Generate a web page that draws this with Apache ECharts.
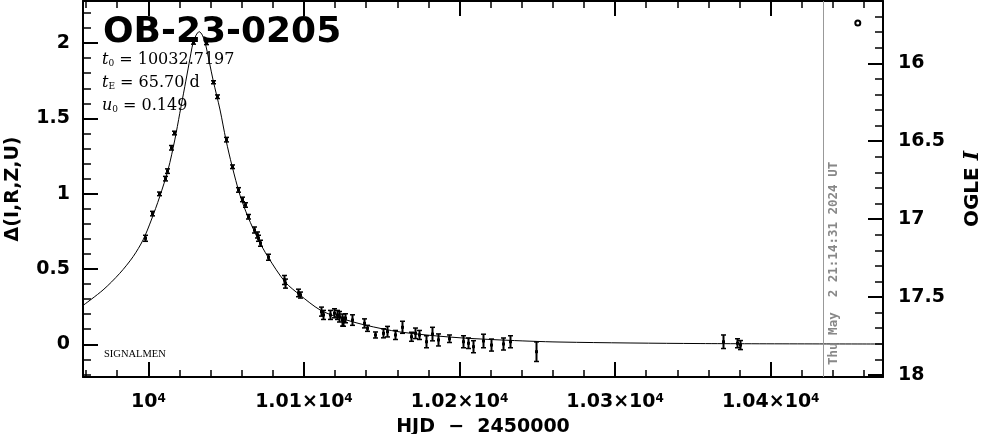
<!DOCTYPE html>
<html>
<head>
<meta charset="utf-8">
<script src="https://cdn.jsdelivr.net/npm/echarts@6/dist/echarts.min.js"></script>
<style>
html,body{margin:0;padding:0;background:#fff;}
#chart{width:986px;height:434px;}
</style>
</head>
<body>
<div id="chart"></div>
<script>
// ---- data ----
const obsT = [9998.1,10002.6,10006.9,10010.9,10011.7,10014.8,10016.8,10028.9,10036.8,10041.8,
  10044.0,10049.9,10054.0,10057.8,10059.9,10062.1,10063.9,10068.1,10069.7,10070.8,
  10072.0,10077.1,10087.4,10087.9,10096.5,10097.5,10111.0,10112.0,10116.8,10119.5,
  10121.1,10122.6,10124.3,10125.3,10126.4,10130.7,10138.6,10140.7,10145.7,10150.6,
  10153.6,10158.5,10162.9,10168.6,10171.4,10174.2,10178.5,10182.1,10186.4,10193.4,
  10202.4,10205.7,10208.5,10215.3,10220.2,10227.8,10232.5,10249.0,10369.5,10378.1,10380.3];
const obsDelta = [0.704,0.868,0.999,1.100,1.150,1.305,1.403,2.003,2.000,1.740,
  1.644,1.359,1.179,1.025,0.962,0.925,0.847,0.759,0.726,0.704,
  0.671,0.578,0.427,0.403,0.341,0.327,0.217,0.195,0.195,0.206,
  0.195,0.183,0.161,0.150,0.173,0.161,0.139,0.106,0.062,0.073,
  0.084,0.062,0.113,0.050,0.073,0.062,0.017,0.068,0.029,0.037,
  0.017,0.007,-0.016,0.022,-0.005,0.002,0.017,-0.049,0.017,0.007,-0.005];
const obsErr = [0.020,0.015,0.012,0.015,0.015,0.015,0.012,0.010,0.010,0.010,
  0.012,0.015,0.012,0.015,0.015,0.015,0.015,0.020,0.020,0.020,
  0.020,0.020,0.030,0.030,0.025,0.020,0.030,0.030,0.030,0.030,
  0.030,0.035,0.040,0.030,0.030,0.035,0.030,0.020,0.020,0.030,
  0.035,0.030,0.040,0.030,0.035,0.030,0.040,0.045,0.040,0.025,
  0.040,0.035,0.040,0.045,0.040,0.040,0.040,0.065,0.045,0.030,0.030];

const modelT = [9958.0,9970.9,9981.6,9990.2,9996.6,10001.9,10007.3,10012.7,10017.0,10020.2,
  10023.4,10026.2,10028.7,10030.7,10032.7,10034.7,10036.6,10041.6,10046.1,10049.9,
  10053.8,10058.9,10064.1,10070.5,10076.9,10087.9,10097.5,10110.4,10123.2,10139.3,
  10161.8,10193.9,10226.0,10264.6,10354.6,10472.2];
const modelDelta = [0.258,0.361,0.471,0.582,0.693,0.825,0.980,1.160,1.357,1.534,
  1.710,1.866,2.000,2.053,2.076,2.053,2.000,1.755,1.556,1.357,
  1.184,0.990,0.845,0.699,0.580,0.414,0.327,0.228,0.175,0.128,
  0.082,0.048,0.029,0.015,0.005,0.002];

const extraT = [10456.0];
const extraDelta = [2.134];

const stampT = 10433.6;
const stampText = 'Thu May  2 21:14:31 2024 UT';

const xMajor = [10000,10100,10200,10300,10400];
const yLeftMajor = [0,0.5,1,1.5,2];
const yRightMajor = [16,16.5,17,17.5,18];

const xRange = [9958.0, 10472.2];
const yLeftRange = [-0.2171, 2.2796];
const yRightRange = [15.600, 18.013];

// minor tick values
const xMinor = []; for (let v = 9960; v <= 10470; v += 20) xMinor.push(v);
const yLeftMinor = []; for (let i = -2; i <= 22; i++) yLeftMinor.push(+(i/10).toFixed(1));
const yRightMinor = []; for (let i = 157; i <= 180; i++) yRightMinor.push(+(i/10).toFixed(1));

const FONT = 'DejaVu Sans';
const chart = echarts.init(document.getElementById('chart'), null, {renderer:'canvas'});

const frame = {show:true, onZero:false, lineStyle:{color:'#000', width:2}};
function xAx(pos, major, showLabel){
  return {
    type:'value', position:pos, min:xRange[0], max:xRange[1],
    axisLine: major ? frame : {show:false, onZero:false},
    splitLine:{show:false},
    axisTick:{show:true, inside:true, length: major?15:7, customValues: major?xMajor:xMinor,
      lineStyle:{color:'#000', width: major?2:1.5}},
    axisLabel: showLabel ? {show:true, customValues:xMajor, margin:16, color:'#000',
      fontFamily:FONT, fontWeight:'bold', fontSize:19,
      formatter: v => (v === 10000 ? '10{s|4}' : (v/10000).toFixed(2) + '×10{s|4}'),
      rich:{s:{fontFamily:FONT, fontWeight:'bold', fontSize:12, verticalAlign:'top', color:'#000'}}
    } : {show:false}
  };
}
function yAx(pos, major, range, majorVals, minorVals, inverse, showLabel){
  return {
    type:'value', position:pos, min:range[0], max:range[1], inverse:inverse,
    axisLine: major ? frame : {show:false, onZero:false},
    splitLine:{show:false},
    axisTick:{show:true, inside:true, length: major?15:8, customValues: major?majorVals:minorVals,
      lineStyle:{color:'#000', width: major?2:1.5}},
    axisLabel: showLabel ? {show:true, customValues:majorVals, margin: pos==='left'?13:15, color:'#000',
      fontFamily:FONT, fontWeight:'bold', fontSize:19,
      formatter: v => String(v)} : {show:false}
  };
}

const xAxes = [xAx('bottom', true, true), xAx('bottom', false, false), xAx('top', true, false), xAx('top', false, false)];
xAxes[0].name = 'HJD  −  2450000';
xAxes[0].nameLocation = 'middle';
xAxes[0].nameGap = 41;
xAxes[0].nameTextStyle = {fontFamily:FONT, fontWeight:'bold', fontSize:19, color:'#000'};

const yAxes = [
  yAx('left', true, yLeftRange, yLeftMajor, yLeftMinor, false, true),
  yAx('left', false, yLeftRange, yLeftMajor, yLeftMinor, false, false),
  yAx('right', true, yRightRange, yRightMajor, yRightMinor, true, true),
  yAx('right', false, yRightRange, yRightMajor, yRightMinor, true, false)
];
yAxes[0].name = 'Δ(I,R,Z,U)';
yAxes[0].nameLocation = 'middle';
yAxes[0].nameGap = 60;
yAxes[0].nameTextStyle = {fontFamily:FONT, fontWeight:'bold', fontSize:19, color:'#000'};
yAxes[2].name = 'OGLE {i|I}';
yAxes[2].nameLocation = 'middle';
yAxes[2].nameRotate = 90;
yAxes[2].nameGap = 80;
yAxes[2].nameTextStyle = {fontFamily:FONT, fontWeight:'bold', fontSize:20, color:'#000',
  rich:{i:{fontFamily:'DejaVu Serif', fontStyle:'italic', fontWeight:'bold', fontSize:20, color:'#000'}}};

const modelData = modelT.map((t,i)=>[t, modelDelta[i]]);
const obsData = obsT.map((t,i)=>[t, obsDelta[i], obsErr[i]]);
const extraData = extraT.map((t,i)=>[t, extraDelta[i]]);

function renderErr(params, api){
  const x = api.value(0), y = api.value(1), e = api.value(2);
  const c = api.coord([x,y]), hi = api.coord([x,y+e]), lo = api.coord([x,y-e]);
  const cx = Math.round(c[0]) + 0.5;
  return {type:'group', children:[
    {type:'line', shape:{x1:cx, y1:hi[1], x2:cx, y2:lo[1]}, style:{stroke:'#000', lineWidth:2}},
    {type:'line', shape:{x1:cx-2.5, y1:hi[1], x2:cx+2.5, y2:hi[1]}, style:{stroke:'#000', lineWidth:1.5}},
    {type:'line', shape:{x1:cx-2.5, y1:lo[1], x2:cx+2.5, y2:lo[1]}, style:{stroke:'#000', lineWidth:1.5}},
    {type:'rect', shape:{x:cx-1.5, y:c[1]-1.5, width:3, height:3}, style:{fill:'#000'}}
  ]};
}

function renderRing(params, api){
  const c = api.coord([api.value(0), api.value(1)]);
  return {type:'circle', shape:{cx:c[0], cy:c[1], r:2.5}, style:{fill:'#fff', stroke:'#000', lineWidth:2}};
}

const serifRich = {
  i:{fontFamily:'DejaVu Serif', fontStyle:'italic', fontSize:16, color:'#000'},
  s:{fontFamily:'DejaVu Serif', fontSize:9, color:'#000', verticalAlign:'bottom', lineHeight:16},
  n:{fontFamily:'DejaVu Serif', fontSize:16, color:'#000'}
};

chart.setOption({
  animation:false,
  backgroundColor:'#fff',
  grid:{left:83, right:103, top:1, bottom:57, containLabel:false, outerBoundsMode:'none'},
  xAxis:xAxes,
  yAxis:yAxes,
  series:[
    {type:'line', name:'model', xAxisIndex:0, yAxisIndex:0, data:modelData, showSymbol:false,
     smooth:0.3, lineStyle:{color:'#000', width:1}, clip:true, z:2,
     markLine:{silent:true, symbol:['none','none'], animation:false,
       lineStyle:{color:'#999', width:1, type:'solid'},
       emphasis:{disabled:true},
       label:{show:true, position:'insideStartBottom', formatter:stampText, color:'#888',
         fontFamily:'DejaVu Sans Mono', fontWeight:'bold', fontSize:12.5, distance:[12,4]},
       data:[{xAxis:stampT}]}},
    {type:'custom', name:'obs', xAxisIndex:0, yAxisIndex:0, data:obsData, renderItem:renderErr, clip:true, z:3},
    {type:'custom', name:'extra', xAxisIndex:0, yAxisIndex:0, data:extraData, renderItem:renderRing, z:4}
  ],
  graphic:[
    {type:'text', left:103, top:15, style:{text:'OB-23-0205', font:'bold 36px "DejaVu Sans"', fill:'#000'}},
    {type:'text', left:102, top:52, style:{text:'{i|t}{s|0}{n| = 10032.7197}', rich:serifRich}},
    {type:'text', left:102, top:75, style:{text:'{i|t}{s|E}{n| = 65.70 d}', rich:serifRich}},
    {type:'text', left:102, top:98, style:{text:'{i|u}{s|0}{n| = 0.149}', rich:serifRich}},
    {type:'text', left:104, top:349, style:{text:'SIGNALMEN', font:'10.5px "Liberation Serif"', fill:'#000'}}
  ]
});
</script>
</body>
</html>
